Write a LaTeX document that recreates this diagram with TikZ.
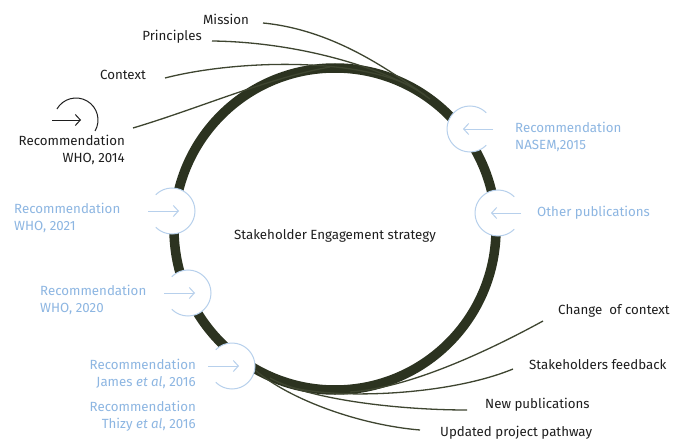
\documentclass[tikz,border=0pt]{standalone}
\usepackage{fontspec}
\setmainfont{Fira Sans}
\usetikzlibrary{arrows.meta}
\definecolor{ringcol}{HTML}{2C3320}
\definecolor{fibercol}{HTML}{3E4530}
\definecolor{bluetxt}{HTML}{8DB6E2}
\definecolor{bluecirc}{HTML}{B7D0EC}
\definecolor{blacktxt}{HTML}{1E1E1E}
\tikzset{
  lbl/.style={font=\fontsize{13.3}{17}\selectfont, text=blacktxt, inner sep=0pt},
  blbl/.style={lbl, text=bluetxt},
  ring/.style={draw=ringcol, line width=9.5pt},
  fiber/.style={draw=fibercol, line width=1.3pt},
  minicirc/.style={draw=bluecirc, line width=1pt},
  blackcirc/.style={draw=blacktxt, line width=1pt},
  arr/.style={-{Straight Barb[length=5pt,width=11pt]}, line width=1pt},
}
\begin{document}
\begin{tikzpicture}[x=1pt,y=-1pt]
\useasboundingbox (0,0) rectangle (675,444);
\fill[white] (0,0) rectangle (675,444);
% big ring
\coordinate (ctr) at (335,229);
\draw[ring] (ctr) circle[radius=161pt];
% fiber end points on the ring
\coordinate (mM) at (430,99);
\coordinate (mP) at (425,95);
\coordinate (mC) at (418,90);
\coordinate (mW) at (330,67);
\coordinate (mU) at (255,370);
\coordinate (mN) at (270,378);
\coordinate (mS) at (290,387);
\coordinate (mX) at (350,392);
% fiber end points near labels
\coordinate (eM) at (263,23);
\coordinate (eP) at (212,41);
\coordinate (eC) at (165,78);
\coordinate (eW) at (133,128);
\coordinate (eU) at (420,430);
\coordinate (eN) at (467,410);
\coordinate (eS) at (513,369);
\coordinate (eX) at (543,321);
% fibers
\draw[fiber] (eM) .. controls (335,30) and (392,72) .. (mM);
\draw[fiber] (eP) .. controls (295,42) and (380,66) .. (mP);
\draw[fiber] (eC) .. controls (235,60) and (360,56) .. (mC);
\draw[fiber] (eW) .. controls (200,108) and (268,78) .. (mW);
\draw[fiber] (mU) .. controls (290,400) and (360,425) .. (eU);
\draw[fiber] (mN) .. controls (310,400) and (400,410) .. (eN);
\draw[fiber] (mS) .. controls (340,400) and (450,395) .. (eS);
\draw[fiber] (mX) .. controls (410,388) and (490,350) .. (eX);
% small circle markers
\coordinate (cNAS) at (470,129);
\coordinate (cOTH) at (498,213);
\coordinate (c21) at (172,211);
\coordinate (c20) at (188,293);
\coordinate (cJAM) at (232,366);
\coordinate (c14) at (76,120);
\foreach \c in {cNAS,cOTH,c21,c20,cJAM}{
  \fill[white] (\c) circle[radius=23pt];
}
% right-side markers (open to the right, arrow pointing left)
\foreach \c in {cNAS,cOTH}{
  \draw[minicirc] ([shift={(45:23pt)}]\c) arc[start angle=45, end angle=315, radius=23pt];
  \draw[minicirc,arr] ([xshift=23pt]\c) -- ([xshift=-7pt]\c);
}
% left-side markers (open to the left, arrow pointing right)
\foreach \c in {c21,c20,cJAM}{
  \draw[minicirc] ([shift={(-135:23pt)}]\c) arc[start angle=-135, end angle=135, radius=23pt];
  \draw[minicirc,arr] ([xshift=-24pt]\c) -- ([xshift=7pt]\c);
}
% black marker WHO 2014
\draw[blackcirc] ([shift={(150:22pt)}]c14) arc[start angle=150, end angle=-30, radius=22pt];
\draw[blackcirc,arr] ([xshift=-24pt]c14) -- ([xshift=5pt]c14);
% labels
\node[lbl] (center) at (335,236) {Stakeholder Engagement strategy};
\node[lbl] (mission) at (226,19) {Mission};
\node[lbl] (principles) at (172,37) {Principles};
\node[lbl] (context) at (123,75) {Context};
\node[lbl, anchor=east, align=right] (who14) at (125,149.5) {Recommendation\\WHO, 2014};
\node[blbl, anchor=west, align=left] (nasem) at (515,136.5) {Recommendation\\NASEM,2015};
\node[blbl, anchor=west] (other) at (537,213) {Other publications};
\node[blbl, anchor=west, align=left] (who21) at (14,217.5) {Recommendation\\WHO, 2021};
\node[blbl, anchor=west, align=left] (who20) at (40,299.5) {Recommendation\\WHO, 2020};
\node[blbl, anchor=east, align=right] (james) at (196,373.5) {Recommendation\\James \textit{et al}, 2016};
\node[blbl, anchor=east, align=right] (thizy) at (196,416) {Recommendation\\Thizy \textit{et al}, 2016};
\node[lbl, anchor=west] (change) at (558,311) {Change\ \ of context};
\node[lbl, anchor=west] (feedback) at (529,365) {Stakeholders feedback};
\node[lbl, anchor=west] (newpub) at (485,405) {New publications};
\node[lbl, anchor=west] (updated) at (440,433) {Updated project pathway};
\end{tikzpicture}
\end{document}
